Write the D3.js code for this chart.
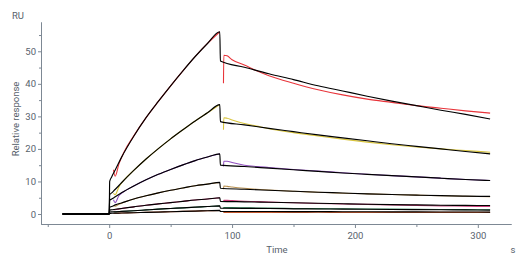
<!DOCTYPE html>
<html>
<head>
<meta charset="utf-8">
<script src="https://cdn.jsdelivr.net/npm/d3@7"></script>
<style>
  body { margin: 0; background: #fff; }
  svg { display: block; font-family: Roboto, sans-serif; }
  .axis path, .axis line { stroke: #7d8894; }
  .axis text { fill: #58626c; font-size: 9.5px; font-family: Roboto, sans-serif; }
</style>
</head>
<body>
<svg id="chart" width="529" height="265"></svg>
<script>
// time points (s)
var baseT = [-38, 0];
var fitAssocT = [0.4, 2, 5, 10, 20, 30, 40, 50, 60, 70, 80, 90];
var fitDissT = [90.5, 110, 130, 150, 170, 190, 210, 230, 250, 270, 290, 310];
var dataAssocT = [3.5, 4.8, 8, 12, 20, 30, 40, 50, 60, 70, 80, 90];
var dataDissT = [93, 93.3, 96, 100, 110, 120, 130, 150, 170, 190, 210, 230, 250, 270, 290, 310];

// fitted curves (RU), one per concentration
var fitAssoc = [
    [10, 11.4, 13.6, 17.4, 23.9, 29.6, 34.6, 39.4, 44.0, 48.4, 52.4, 56.0],
    [5.9, 6.5, 7.6, 9.6, 13.4, 16.9, 20.1, 23.1, 25.9, 28.6, 31.1, 33.6],
    [4.2, 4.6, 5.3, 6.5, 8.6, 10.5, 12.2, 13.7, 15.1, 16.4, 17.5, 18.5],
    [2.1, 2.3, 2.8, 3.4, 4.6, 5.6, 6.5, 7.3, 8.0, 8.7, 9.2, 9.7],
    [1.2, 1.3, 1.45, 1.7, 2.2, 2.7, 3.1, 3.5, 3.9, 4.3, 4.6, 5.0],
    [0.6, 0.65, 0.7, 0.8, 1.0, 1.25, 1.5, 1.7, 1.9, 2.1, 2.3, 2.5],
    [0.2, 0.22, 0.25, 0.3, 0.4, 0.5, 0.6, 0.7, 0.8, 0.9, 1.0, 1.1]
];
var fitDiss = [
    [47.0, 45.1, 43.1, 41.3, 39.4, 37.8, 36.2, 34.7, 33.3, 31.9, 30.6, 29.2],
    [28.4, 27.4, 26.3, 25.3, 24.3, 23.4, 22.5, 21.6, 20.8, 20.0, 19.2, 18.5],
    [15.0, 14.6, 14.1, 13.6, 13.1, 12.6, 12.2, 11.8, 11.4, 11.0, 10.6, 10.3],
    [7.9, 7.6, 7.3, 7.0, 6.7, 6.45, 6.2, 6.0, 5.8, 5.65, 5.5, 5.4],
    [3.9, 3.75, 3.6, 3.45, 3.3, 3.15, 3.0, 2.9, 2.8, 2.7, 2.65, 2.6],
    [1.8, 1.75, 1.7, 1.6, 1.55, 1.5, 1.45, 1.4, 1.35, 1.3, 1.25, 1.2],
    [0.8, 0.78, 0.76, 0.74, 0.72, 0.7, 0.68, 0.66, 0.64, 0.62, 0.61, 0.6]
];

// measured curves (RU)
var dataAssoc = [
    [13.6, 11.6, 15.5, 19.0, 24.0, 29.6, 34.6, 39.4, 44.0, 48.4, 52.4, 56.0],
    [6.4, 5.9, 8.4, 10.4, 13.4, 16.9, 20.1, 23.1, 25.9, 28.6, 31.1, 33.6],
    [4.4, 3.5, 5.7, 6.9, 8.6, 10.5, 12.2, 13.7, 15.1, 16.4, 17.5, 18.5],
    [2.6, 2.4, 3.0, 3.6, 4.6, 5.6, 6.5, 7.3, 8.0, 8.7, 9.2, 9.7],
    [1.4, 1.3, 1.55, 1.8, 2.2, 2.7, 3.1, 3.5, 3.9, 4.3, 4.6, 5.0],
    [0.7, 0.65, 0.75, 0.85, 1.0, 1.25, 1.5, 1.7, 1.9, 2.1, 2.3, 2.5],
    [0.25, 0.22, 0.28, 0.32, 0.4, 0.5, 0.6, 0.7, 0.8, 0.9, 1.0, 1.1]
];
var dataDiss = [
    [40.2, 48.8, 48.6, 47.4, 45.8, 44.0, 42.5, 40.2, 38.2, 36.6, 35.3, 34.3, 33.3, 32.5, 31.7, 31.0],
    [25.9, 29.6, 29.4, 28.9, 27.8, 27.0, 26.2, 25.0, 24.0, 23.0, 22.1, 21.3, 20.6, 20.0, 19.5, 19.0],
    [14.6, 16.2, 16.2, 15.8, 15.0, 14.6, 14.3, 13.7, 13.2, 12.7, 12.2, 11.8, 11.4, 11.0, 10.6, 10.3],
    [7.6, 8.6, 8.5, 8.3, 7.9, 7.6, 7.4, 7.0, 6.7, 6.4, 6.2, 6.0, 5.8, 5.6, 5.45, 5.3],
    [3.7, 4.2, 4.2, 4.1, 3.9, 3.8, 3.65, 3.45, 3.25, 3.1, 2.95, 2.8, 2.65, 2.5, 2.4, 2.3],
    [1.7, 2.0, 2.0, 1.95, 1.9, 1.85, 1.8, 1.7, 1.65, 1.6, 1.55, 1.5, 1.45, 1.4, 1.35, 1.3],
    [0.4, 0.5, 0.5, 0.5, 0.5, 0.5, 0.5, 0.5, 0.52, 0.5, 0.5, 0.5, 0.5, 0.5, 0.5, 0.5]
];
var dataColors = ["#e8343a", "#d8c43c", "#9150c0", "#b89050", "#c83c78", "#2f7d55", "#c0562c"];

var xTicks = [0, 100, 200, 300];
var xMinor = [-50, 50, 150, 250];
var yTicks = [0, 10, 20, 30, 40, 50];
var yMinor = [5, 15, 25, 35, 45, 55];

var chart = {};
chart.margins = { top: 22, bottom: 41, left: 41, right: 18 };
chart.width = 529 - chart.margins.left - chart.margins.right;
chart.height = 265 - chart.margins.top - chart.margins.bottom;

var svg = d3.select("#chart");
var g = svg.append("g")
    .attr("transform", `translate(${chart.margins.left}, ${chart.margins.top})`);

var x = d3.scaleLinear().domain([-55.5, 327]).range([0, chart.width]);
var y = d3.scaleLinear().domain([-3.07, 59]).range([chart.height, 0]);

// axes
g.append("g")
    .attr("class", "axis")
    .attr("transform", `translate(0, ${chart.height})`)
    .call(d3.axisBottom(x).tickValues(xTicks).tickSize(4).tickPadding(4).tickSizeOuter(0));
g.append("g")
    .attr("class", "axis")
    .attr("transform", `translate(0, ${chart.height})`)
    .call(d3.axisBottom(x).tickValues(xMinor).tickSize(3).tickFormat("").tickSizeOuter(0));
g.append("g")
    .attr("class", "axis")
    .call(d3.axisLeft(y).tickValues(yTicks).tickSize(3).tickPadding(2).tickSizeOuter(0));
g.append("g")
    .attr("class", "axis")
    .call(d3.axisLeft(y).tickValues(yMinor).tickSize(2).tickFormat("").tickSizeOuter(0));

var line = d3.line()
    .x((d) => x(d[0]))
    .y((d) => y(d[1]))
    .curve(d3.curveMonotoneX);

// measured data: association and dissociation drawn as separate pieces
dataColors.forEach((col, i) => {
    var a = dataAssocT.map((t, j) => [t, dataAssoc[i][j]]);
    var b = dataDissT.map((t, j) => [t, dataDiss[i][j]]);
    [a, b].forEach((pts) => {
        g.append("path")
            .datum(pts)
            .attr("d", line)
            .attr("fill", "none")
            .attr("stroke", col)
            .attr("stroke-width", 1.1);
    });
});

// fitted curves on top
fitAssoc.forEach((vals, i) => {
    var pts = baseT.map((t) => [t, 0])
        .concat(fitAssocT.map((t, j) => [t, vals[j]]))
        .concat(fitDissT.map((t, j) => [t, fitDiss[i][j]]));
    g.append("path")
        .datum(pts)
        .attr("d", line)
        .attr("fill", "none")
        .attr("stroke", "#000")
        .attr("stroke-width", 1.15);
});

// labels
svg.append("text")
    .attr("x", 12).attr("y", 19)
    .attr("fill", "#58626c").style("font-size", "9.5px")
    .text("RU");
svg.append("text")
    .attr("transform", "translate(18.5, 119) rotate(-90)")
    .attr("text-anchor", "middle")
    .attr("fill", "#58626c").style("font-size", "9.5px")
    .text("Relative response");
svg.append("text")
    .attr("x", 277).attr("y", 253)
    .attr("text-anchor", "middle")
    .attr("fill", "#58626c").style("font-size", "9.5px")
    .text("Time");
svg.append("text")
    .attr("x", 513).attr("y", 253)
    .attr("text-anchor", "middle")
    .attr("fill", "#58626c").style("font-size", "9.5px")
    .text("s");
</script>
</body>
</html>
